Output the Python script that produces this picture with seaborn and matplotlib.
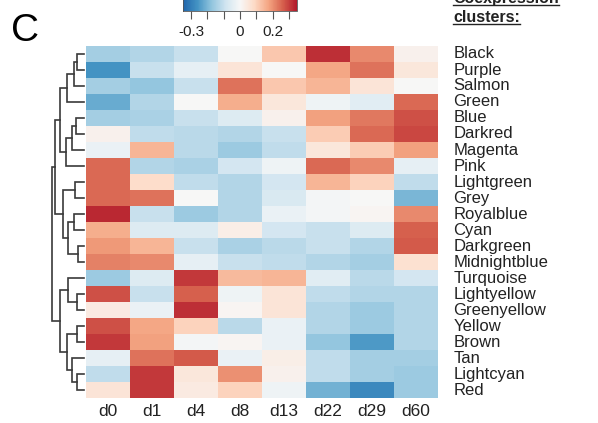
import numpy as np
import pandas as pd
import seaborn as sns
import matplotlib.pyplot as plt
from matplotlib.lines import Line2D
from matplotlib.colors import LinearSegmentedColormap

# data: module eigengene correlation per time point
clusters = ["Black", "Purple", "Salmon", "Green", "Blue", "Darkred", "Magenta",
            "Pink", "Lightgreen", "Grey", "Royalblue", "Cyan", "Darkgreen",
            "Midnightblue", "Turquoise", "Lightyellow", "Greenyellow", "Yellow",
            "Brown", "Tan", "Lightcyan", "Red"]
days = ["d0", "d1", "d4", "d8", "d13", "d22", "d29", "d60"]

black        = [-0.15, -0.13, -0.10, 0.00, 0.12, 0.32, 0.21, 0.02]
purple       = [-0.26, -0.10, -0.04, 0.06, 0.00, 0.17, 0.24, 0.05]
salmon       = [-0.15, -0.17, -0.10, 0.24, 0.12, 0.15, 0.06, 0.00]
green        = [-0.22, -0.13, 0.00, 0.16, 0.05, -0.02, -0.05, 0.25]
blue         = [-0.15, -0.14, -0.10, -0.06, 0.02, 0.18, 0.23, 0.28]
darkred      = [0.02, -0.11, -0.12, -0.13, -0.10, 0.11, 0.25, 0.29]
magenta      = [-0.03, 0.15, -0.12, -0.16, -0.11, 0.05, 0.11, 0.18]
pink         = [0.25, -0.13, -0.14, -0.08, -0.02, 0.25, 0.21, -0.04]
lightgreen   = [0.25, 0.08, -0.11, -0.13, -0.08, 0.15, 0.10, -0.11]
grey         = [0.25, 0.24, 0.00, -0.13, -0.07, -0.01, 0.00, -0.20]
royalblue    = [0.33, -0.10, -0.16, -0.13, -0.03, -0.01, 0.01, 0.21]
cyan         = [0.16, -0.06, -0.06, 0.03, -0.08, -0.10, -0.06, 0.26]
darkgreen    = [0.19, 0.15, -0.10, -0.14, -0.12, -0.10, -0.13, 0.27]
midnightblue = [0.22, 0.21, -0.04, -0.10, -0.11, -0.13, -0.15, 0.07]
turquoise    = [-0.16, -0.06, 0.31, 0.14, 0.15, -0.05, -0.12, -0.08]
lightyellow  = [0.28, -0.10, 0.26, -0.02, 0.06, -0.11, -0.13, -0.13]
greenyellow  = [0.04, -0.03, 0.32, 0.01, 0.06, -0.13, -0.16, -0.13]
yellow       = [0.28, 0.17, 0.10, -0.12, -0.03, -0.13, -0.16, -0.13]
brown        = [0.31, 0.18, -0.01, 0.01, -0.03, -0.17, -0.25, -0.13]
tan          = [-0.04, 0.24, 0.27, -0.03, 0.03, -0.11, -0.15, -0.15]
lightcyan    = [-0.11, 0.31, 0.05, 0.20, 0.02, -0.11, -0.15, -0.16]
red          = [0.06, 0.31, 0.04, 0.10, -0.02, -0.21, -0.28, -0.16]

rows = [black, purple, salmon, green, blue, darkred, magenta, pink, lightgreen,
        grey, royalblue, cyan, darkgreen, midnightblue, turquoise, lightyellow,
        greenyellow, yellow, brown, tan, lightcyan, red]
df = pd.DataFrame(rows, index=clusters, columns=days)

# row dendrogram, scipy-style linkage: (node a, node b, height), new ids from 22
linkage = [(0, 1, 7), (22, 2, 10), (23, 3, 17), (4, 5, 8), (25, 6, 12),
           (26, 7, 18), (24, 27, 24), (8, 9, 9), (10, 11, 10), (12, 13, 6),
           (30, 31, 16), (29, 32, 21), (28, 33, 29), (15, 16, 7), (14, 35, 16),
           (17, 18, 7), (20, 21, 7), (19, 38, 12), (37, 39, 17), (36, 40, 24),
           (34, 41, 32)]

# RdBu without the darkest ends
cmap = LinearSegmentedColormap.from_list(
    "rdbu9", ["#2166ac", "#4393c3", "#92c5de", "#d1e5f0", "#f7f7f7",
              "#fddbc7", "#f4a582", "#d6604d", "#b2182b"])

W, H = 598, 423
fig = plt.figure(figsize=(W / 100, H / 100), dpi=100)
plt.rcParams['font.family'] = ['Liberation Sans', 'DejaVu Sans']

ax = fig.add_axes([86 / W, 1 - 398 / H, 352 / W, 352 / H])
cax = fig.add_axes([183 / W, 1 - 11 / H, 114 / W, 16 / H])
dax = fig.add_axes([48 / W, 1 - 398 / H, 37 / W, 352 / H], sharey=ax)

sns.heatmap(df, ax=ax, cmap=cmap, vmin=-0.35, vmax=0.35,
            cbar_ax=cax, cbar_kws={"orientation": "horizontal"})

ax.set_xlabel("")
ax.set_ylabel("")
ax.tick_params(axis="x", length=0, pad=4, labelsize=12.5, labelcolor="#222222")
ax.set_xticklabels(days, rotation=0)
ax.yaxis.tick_right()
ax.tick_params(axis="y", length=0, pad=11, labelsize=12, labelcolor="#222222")
ax.set_yticklabels(clusters, rotation=0, va="center")

# colorbar
cb = ax.collections[0].colorbar
cb.set_ticks([-0.3, -0.2, -0.1, 0, 0.1, 0.2, 0.3])
cb.set_ticklabels(["-0.3", "", "", "0", "", "0.2", ""])
cax.xaxis.set_ticks_position("bottom")
cax.tick_params(axis="x", length=6, width=0.8, color="#555555", pad=4,
                labelsize=11, labelcolor="#222222")
cb.outline.set_linewidth(0.6)
cb.outline.set_edgecolor("#555555")

# dendrogram from linkage
n = len(clusters)
pos = {i: (i + 0.5, 0.0) for i in range(n)}
for k, (a, b, h) in enumerate(linkage):
    ya, ha = pos[a]
    yb, hb = pos[b]
    dax.plot([ha, h, h, hb], [ya, ya, yb, yb], color="#3a3a3a", lw=1.2,
             solid_joinstyle="miter")
    pos[n + k] = ((ya + yb) / 2, h)
dax.set_xlim(36, -1)
dax.axis("off")

# panel letter and header
fig.text(11 / W, 1 - 41 / H, "C", fontsize=28, color="black")

header = [("Coexpression", 3), ("clusters:", 22)]
fig.canvas.draw()
renderer = fig.canvas.get_renderer()
for txt, base in header:
    t = fig.text(453 / W, 1 - base / H, txt, fontsize=11.5, fontweight="bold",
                 va="baseline", color="#222222")
    bb = t.get_window_extent(renderer)
    yy = 1 - (base + 2.5) / H
    fig.add_artist(Line2D([bb.x0 / W, bb.x1 / W], [yy, yy],
                          color="#222222", lw=1.0, transform=fig.transFigure))

fig.savefig("out.png", dpi=100)
